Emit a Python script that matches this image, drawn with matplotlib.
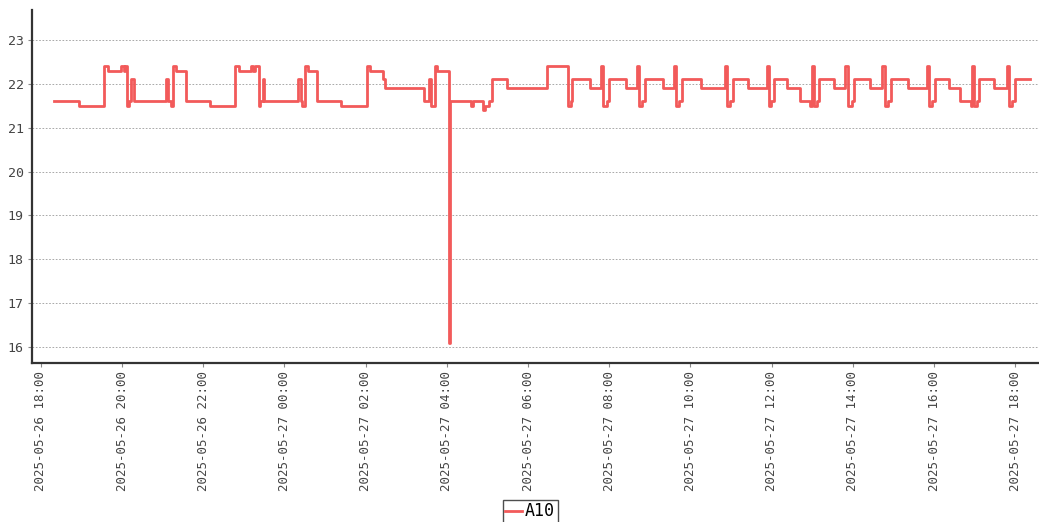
import matplotlib
matplotlib.use("Agg")
from matplotlib import pyplot as plt
import matplotlib.dates as mdates
import pandas as pd

# change points of the A10 reading (value holds until next time)
times = [
    "2025-05-26 18:19", "2025-05-26 18:57", "2025-05-26 19:34", "2025-05-26 19:40",
    "2025-05-26 19:59", "2025-05-26 20:03", "2025-05-26 20:05", "2025-05-26 20:08",
    "2025-05-26 20:10", "2025-05-26 20:14", "2025-05-26 20:17", "2025-05-26 21:05",
    "2025-05-26 21:08", "2025-05-26 21:13", "2025-05-26 21:16", "2025-05-26 21:20",
    "2025-05-26 21:35", "2025-05-26 22:10", "2025-05-26 22:47", "2025-05-26 22:53",
    "2025-05-26 23:11", "2025-05-26 23:14", "2025-05-26 23:16", "2025-05-26 23:22",
    "2025-05-26 23:24", "2025-05-26 23:28", "2025-05-26 23:30",
    "2025-05-27 00:20", "2025-05-27 00:24", "2025-05-27 00:26", "2025-05-27 00:31",
    "2025-05-27 00:35", "2025-05-27 00:48", "2025-05-27 01:24", "2025-05-27 02:02",
    "2025-05-27 02:07", "2025-05-27 02:25", "2025-05-27 02:29", "2025-05-27 03:26",
    "2025-05-27 03:34", "2025-05-27 03:37", "2025-05-27 03:42", "2025-05-27 03:46",
    "2025-05-27 04:03", "2025-05-27 04:04", "2025-05-27 04:35", "2025-05-27 04:38",
    "2025-05-27 04:54", "2025-05-27 04:57", "2025-05-27 05:02", "2025-05-27 05:06",
    "2025-05-27 05:29", "2025-05-27 06:28", "2025-05-27 06:59", "2025-05-27 07:03",
    "2025-05-27 07:05", "2025-05-27 07:32", "2025-05-27 07:48", "2025-05-27 07:51",
    "2025-05-27 07:56", "2025-05-27 07:59", "2025-05-27 08:24", "2025-05-27 08:41",
    "2025-05-27 08:44", "2025-05-27 08:49", "2025-05-27 08:53", "2025-05-27 09:20",
    "2025-05-27 09:35", "2025-05-27 09:39", "2025-05-27 09:43", "2025-05-27 09:48",
    "2025-05-27 10:15", "2025-05-27 10:51", "2025-05-27 10:54", "2025-05-27 10:59",
    "2025-05-27 11:03", "2025-05-27 11:25", "2025-05-27 11:53", "2025-05-27 11:56",
    "2025-05-27 11:59", "2025-05-27 12:03", "2025-05-27 12:23", "2025-05-27 12:42",
    "2025-05-27 12:56", "2025-05-27 12:59", "2025-05-27 13:02", "2025-05-27 13:07",
    "2025-05-27 13:10", "2025-05-27 13:32", "2025-05-27 13:49", "2025-05-27 13:53",
    "2025-05-27 13:58", "2025-05-27 14:01", "2025-05-27 14:26", "2025-05-27 14:43",
    "2025-05-27 14:47", "2025-05-27 14:52", "2025-05-27 14:56", "2025-05-27 15:22",
    "2025-05-27 15:50", "2025-05-27 15:53", "2025-05-27 15:57", "2025-05-27 16:01",
    "2025-05-27 16:22", "2025-05-27 16:39", "2025-05-27 16:54", "2025-05-27 16:56",
    "2025-05-27 16:59", "2025-05-27 17:04", "2025-05-27 17:07", "2025-05-27 17:28",
    "2025-05-27 17:48", "2025-05-27 17:51", "2025-05-27 17:55", "2025-05-27 17:59",
    "2025-05-27 18:22",
]
values = [
    21.6, 21.5, 22.4, 22.3,
    22.4, 22.3, 22.4, 21.5,
    21.6, 22.1, 21.6, 22.1,
    21.6, 21.5, 22.4, 22.3,
    21.6, 21.5, 22.4, 22.3,
    22.4, 22.3, 22.4, 21.5,
    21.6, 22.1, 21.6,
    22.1, 21.6, 21.5, 22.4,
    22.3, 21.6, 21.5, 22.4,
    22.3, 22.1, 21.9, 21.6,
    22.1, 21.5, 22.4, 22.3,
    16.1, 21.6, 21.5, 21.6,
    21.4, 21.5, 21.6, 22.1,
    21.9, 22.4, 21.5, 21.6,
    22.1, 21.9, 22.4, 21.5,
    21.6, 22.1, 21.9, 22.4,
    21.5, 21.6, 22.1, 21.9,
    22.4, 21.5, 21.6, 22.1,
    21.9, 22.4, 21.5, 21.6,
    22.1, 21.9, 22.4, 21.5,
    21.6, 22.1, 21.9, 21.6,
    21.5, 22.4, 21.5, 21.6,
    22.1, 21.9, 22.4, 21.5,
    21.6, 22.1, 21.9, 22.4,
    21.5, 21.6, 22.1, 21.9,
    22.4, 21.5, 21.6, 22.1,
    21.9, 21.6, 21.5, 22.4,
    21.5, 21.6, 22.1, 21.9,
    22.4, 21.5, 21.6, 22.1,
    22.1,
]
yticks = [16, 17, 18, 19, 20, 21, 22, 23]

plt.rcParams["font.family"] = "DejaVu Sans Mono"

t = pd.to_datetime(times)

fig = plt.figure(figsize=(10.39, 5.22), dpi=100)
ax = fig.add_axes([32 / 1039, (522 - 363) / 522, 1 - 32 / 1039, (363 - 10) / 522])

ax.plot(t, values, drawstyle="steps-post", color="#f25a5a", lw=2, label="A10")

ax.set_xlim(pd.Timestamp("2025-05-26 17:47"), pd.Timestamp("2025-05-27 18:35"))
ax.set_ylim(15.64, 23.68)
ax.set_yticks(yticks)
ax.xaxis.set_major_locator(mdates.HourLocator(byhour=range(0, 24, 2)))
ax.xaxis.set_major_formatter(mdates.DateFormatter("%Y-%m-%d %H:%M"))
plt.setp(ax.get_xticklabels(), rotation=90)

ax.grid(axis="y", linestyle=(0, (2, 2)), color="#9a9a9a", lw=0.6)
ax.set_axisbelow(True)
for s in ["top", "right"]:
    ax.spines[s].set_visible(False)
for s in ["left", "bottom"]:
    ax.spines[s].set_color("#333333")
    ax.spines[s].set_linewidth(1.6)
ax.tick_params(labelsize=9.5, length=3, color="#888888", labelcolor="#444444", pad=3)
ax.tick_params(axis="x", labelsize=9)

fig.legend(loc="upper center", bbox_to_anchor=(530 / 1039, 1 - 500 / 522),
           fontsize=12, frameon=True, fancybox=False, edgecolor="#222222",
           handlelength=1.0, handletextpad=0.2, borderpad=0.15, borderaxespad=0)

fig.savefig("out.png", dpi=100)
